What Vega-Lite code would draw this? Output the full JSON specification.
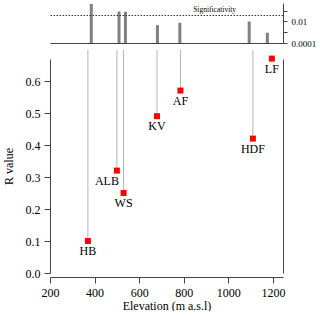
{
  "$schema": "https://vega.github.io/schema/vega-lite/v6.json",
  "padding": {"left": 2, "top": 3, "right": 0, "bottom": 0},
  "spacing": 1,
  "config": {
    "font": "Liberation Serif",
    "view": {"stroke": null},
    "axis": {
      "domainColor": "#444",
      "tickColor": "#444",
      "labelColor": "#000",
      "titleColor": "#000",
      "labelFont": "Liberation Serif",
      "titleFont": "Liberation Serif",
      "labelFontSize": 12,
      "titleFontSize": 12,
      "titleFontWeight": "normal",
      "grid": false,
      "tickSize": 6
    }
  },
  "datasets": {
    "sites": [
      {"site": "HB", "elev": 370, "r": 0.10, "p": 0.41},
      {"site": "ALB", "elev": 500, "r": 0.32, "p": 0.081},
      {"site": "WS", "elev": 530, "r": 0.25, "p": 0.076},
      {"site": "KV", "elev": 680, "r": 0.49, "p": 0.0045},
      {"site": "AF", "elev": 785, "r": 0.57, "p": 0.0074},
      {"site": "HDF", "elev": 1110, "r": 0.42, "p": 0.0098},
      {"site": "LF", "elev": 1195, "r": 0.67, "p": 0.00089}
    ],
    "threshold": [
      {"label": "Significativity", "p": 0.035}
    ]
  },
  "vconcat": [
    {
      "width": 233,
      "height": 40,
      "layer": [
        {
          "data": {"name": "sites"},
          "mark": {"type": "bar", "color": "#808080", "size": 3},
          "encoding": {
            "x": {
              "field": "elev", "type": "quantitative",
              "scale": {"domain": [200, 1245], "nice": false, "zero": false},
              "axis": {"orient": "bottom", "labels": false, "ticks": false, "title": null, "domain": true}
            },
            "y": {
              "field": "p", "type": "quantitative",
              "scale": {"type": "log", "domain": [0.0001, 0.5], "nice": false},
              "axis": {
                "orient": "right", "title": null,
                "values": [0.0001, 0.001, 0.01, 0.1],
                "labelExpr": "datum.value == 0.01 ? '0.01' : (datum.value == 0.0001 ? '0.0001' : '')",
                "labelFontSize": 9, "tickSize": 4,
                "labelPadding": 4, "labelFlush": false, "labelOverlap": false
              }
            },
            "y2": {"datum": 0.0001}
          }
        },
        {
          "data": {"name": "threshold"},
          "mark": {"type": "rule", "color": "#333", "strokeDash": [1.5, 1.5], "strokeWidth": 1},
          "encoding": {"y": {"field": "p", "type": "quantitative"}}
        },
        {
          "data": {"name": "threshold"},
          "mark": {"type": "text", "fontSize": 7.5, "baseline": "bottom", "dy": -1, "color": "#000"},
          "encoding": {
            "x": {"datum": 948},
            "y": {"field": "p", "type": "quantitative"},
            "text": {"field": "label"}
          }
        }
      ]
    },
    {
      "width": 233,
      "height": 214,
      "data": {"name": "sites"},
      "layer": [
        {
          "transform": [{"filter": "datum.site != 'LF'"}],
          "mark": {"type": "rule", "color": "#b4b4b4", "strokeWidth": 1},
          "encoding": {
            "x": {
              "field": "elev", "type": "quantitative",
              "scale": {"domain": [200, 1245], "nice": false, "zero": false},
              "axis": {
                "values": [200, 400, 600, 800, 1000, 1200], "format": "d",
                "offset": 4, "labelPadding": 4, "titlePadding": 2,
                "title": "Elevation (m a.s.l)", "labelFlush": false
              }
            },
            "y": {
              "field": "r", "type": "quantitative",
              "scale": {"domain": [0, 0.66875], "nice": false, "zero": false},
              "axis": {
                "orient": "left", "title": "R value",
                "values": [0, 0.1, 0.2, 0.3, 0.4, 0.5, 0.6],
                "format": ".1f", "labelPadding": 4, "titlePadding": 10
              }
            },
            "y2": {"datum": 0.697}
          }
        },
        {
          "mark": {"type": "square", "size": 36, "filled": true, "color": "#ff0000", "opacity": 1},
          "encoding": {
            "x": {"field": "elev", "type": "quantitative"},
            "y": {"field": "r", "type": "quantitative", "axis": null}
          }
        },
        {
          "transform": [{"filter": "datum.site != 'ALB'"}],
          "mark": {"type": "text", "baseline": "top", "dy": 5, "fontSize": 12, "color": "#000"},
          "encoding": {
            "x": {"field": "elev", "type": "quantitative"},
            "y": {"field": "r", "type": "quantitative", "axis": null},
            "text": {"field": "site"}
          }
        },
        {
          "transform": [{"filter": "datum.site == 'ALB'"}],
          "mark": {"type": "text", "baseline": "top", "dy": 5, "dx": -10, "fontSize": 12, "color": "#000"},
          "encoding": {
            "x": {"field": "elev", "type": "quantitative"},
            "y": {"field": "r", "type": "quantitative", "axis": null},
            "text": {"field": "site"}
          }
        },
        {
          "mark": {"type": "point", "opacity": 0},
          "encoding": {
            "x": {"field": "elev", "type": "quantitative"},
            "y": {
              "field": "r", "type": "quantitative",
              "axis": {"orient": "right", "labels": false, "ticks": false, "title": null}
            }
          }
        }
      ],
      "resolve": {"axis": {"y": "independent"}}
    }
  ]
}
